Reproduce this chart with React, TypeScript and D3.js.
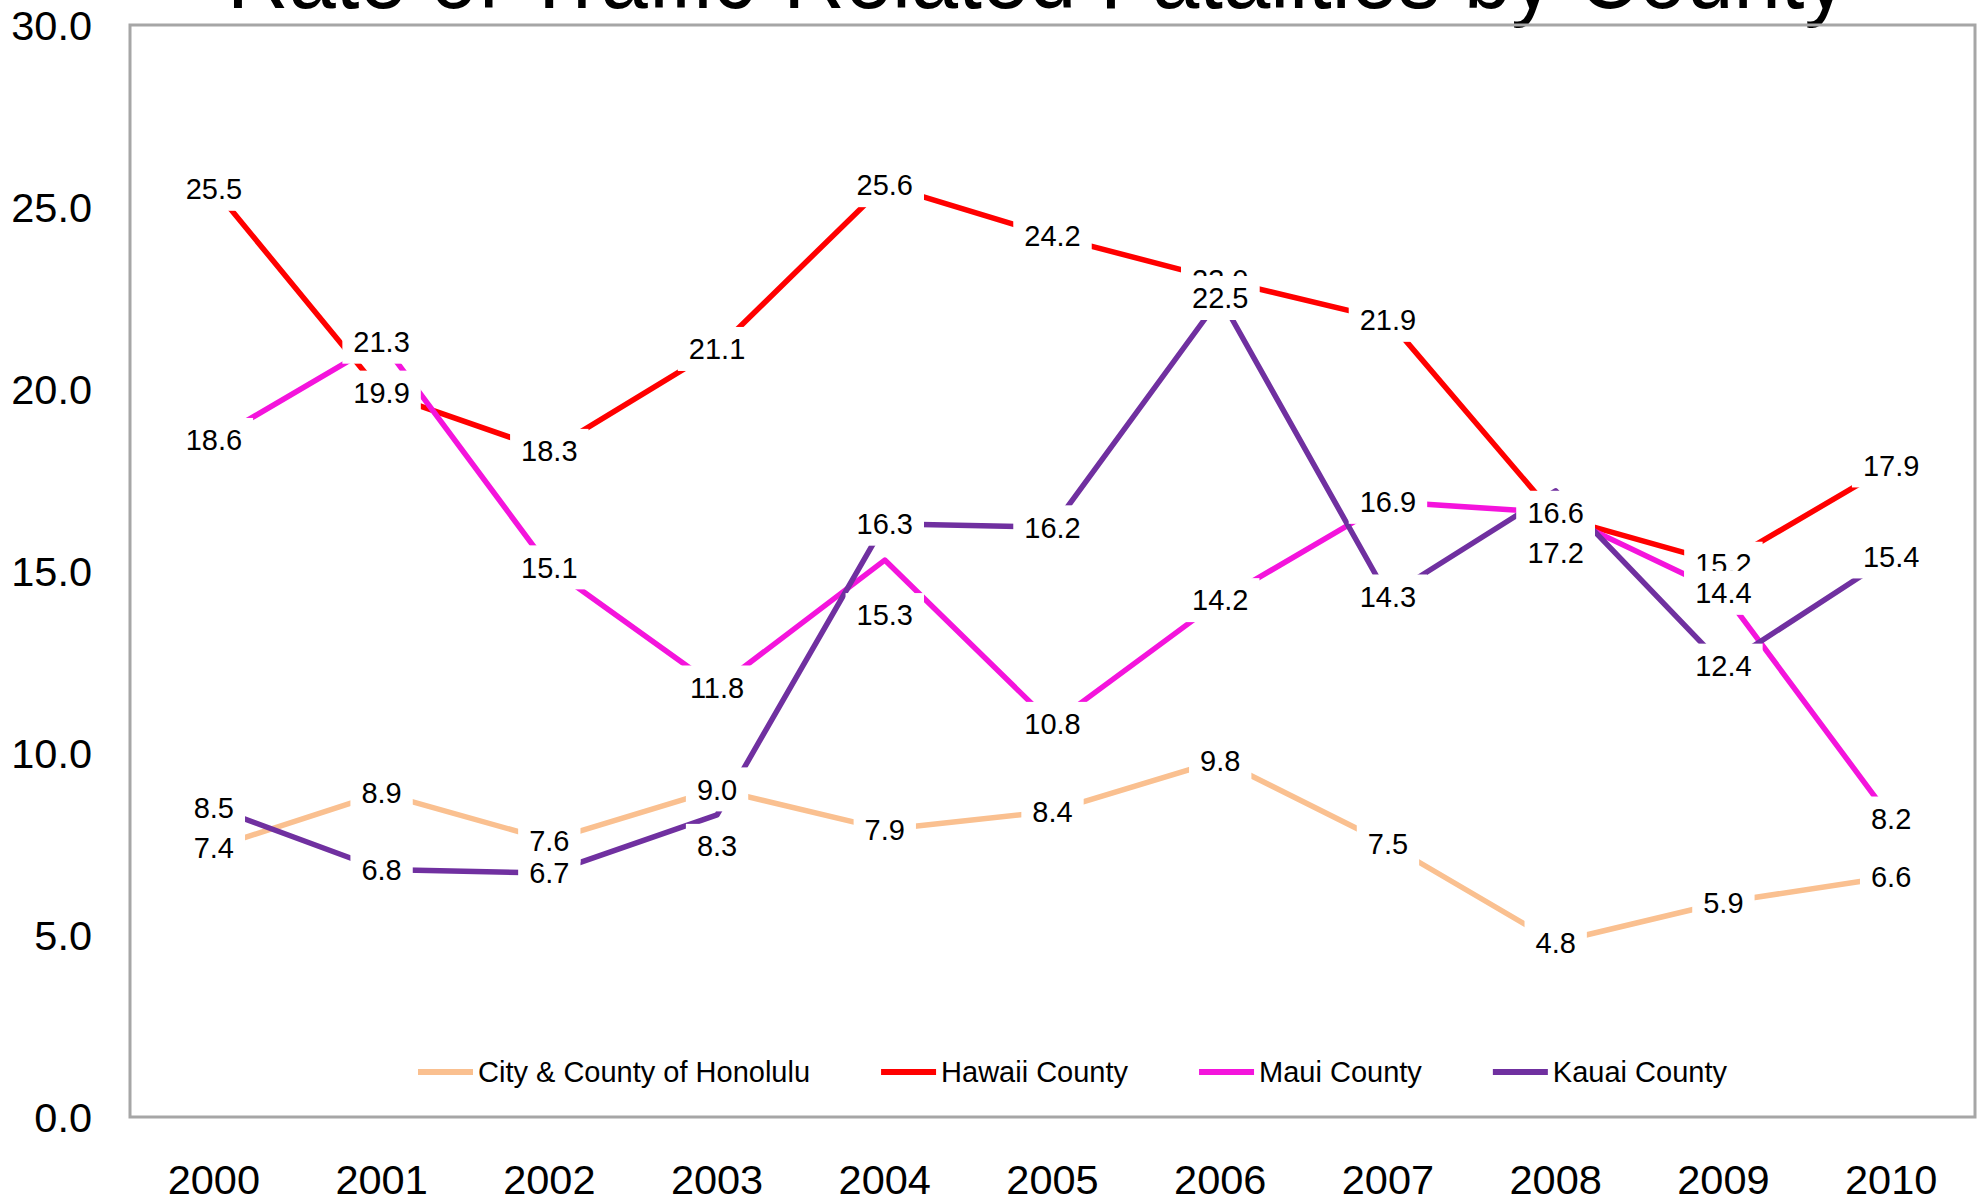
import React, { useEffect, useRef } from "react";
import * as d3 from "d3";

const years = ["2000", "2001", "2002", "2003", "2004", "2005", "2006", "2007", "2008", "2009", "2010"];
const honolulu = [7.4, 8.9, 7.6, 9.0, 7.9, 8.4, 9.8, 7.5, 4.8, 5.9, 6.6];
const hawaii = [25.5, 19.9, 18.3, 21.1, 25.6, 24.2, 23.0, 21.9, 16.5, 15.2, 17.9];
const maui = [18.6, 21.3, 15.1, 11.8, 15.3, 10.8, 14.2, 16.9, 16.6, 14.4, 8.2];
const kauai = [8.5, 6.8, 6.7, 8.3, 16.3, 16.2, 22.5, 14.3, 17.2, 12.4, 15.4];
const seriesNames = ["City & County of Honolulu", "Hawaii County", "Maui County", "Kauai County"];
const yTicks = [0, 5, 10, 15, 20, 25, 30];
const title = "Rate of Traffic-Related Fatalities by County";

const colors = ["#FAC090", "#FF0000", "#F414DC", "#7030A0"];
// manual label nudges (pixels, downward) keyed by "series-index"
const labelNudge: Record<string, number> = { "3-3": 31, "2-4": 55, "3-8": 62 };

export default function App() {
  const ref = useRef<SVGSVGElement | null>(null);
  useEffect(() => {
    const svg = d3.select(ref.current);
    svg.selectAll("*").remove();
    const W = 1983, H = 1201;
    const left = 130, right = 1975, top = 25, bottom = 1117;
    const font = "Liberation Sans, Arial, sans-serif";
    const x = d3.scaleBand<string>().domain(years).range([left, right]).padding(0);
    const y = d3.scaleLinear().domain([0, 30]).range([bottom, top]);
    const cx = (yr: string) => (x(yr) as number) + x.bandwidth() / 2;
    const all = [honolulu, hawaii, maui, kauai];

    svg.append("rect").attr("width", W).attr("height", H).attr("fill", "#fff");

    // title (clipped at top)
    svg.append("text")
      .attr("x", 1037).attr("y", 8)
      .attr("text-anchor", "middle")
      .attr("font-family", font).attr("font-size", 95)
      .attr("textLength", 1620).attr("lengthAdjust", "spacingAndGlyphs")
      .attr("fill", "#000").text(title);

    // plot frame
    svg.append("rect")
      .attr("x", left).attr("y", top).attr("width", right - left).attr("height", bottom - top)
      .attr("fill", "none").attr("stroke", "#A6A6A6").attr("stroke-width", 3);

    // y tick labels
    svg.append("g").selectAll("text").data(yTicks).join("text")
      .attr("x", 92).attr("y", (d) => y(d) + 14.8)
      .attr("text-anchor", "end")
      .attr("font-family", font).attr("font-size", 41.5).attr("fill", "#000")
      .text((d) => d3.format(".1f")(d));

    // x tick labels
    svg.append("g").selectAll("text").data(years).join("text")
      .attr("x", (d) => cx(d)).attr("y", 1194)
      .attr("text-anchor", "middle")
      .attr("font-family", font).attr("font-size", 41.5).attr("fill", "#000")
      .text((d) => d);

    // lines
    const line = d3.line<number>().x((_, i) => cx(years[i])).y((d) => y(d));
    all.forEach((vals, si) => {
      svg.append("path").attr("d", line(vals) as string)
        .attr("fill", "none").attr("stroke", colors[si]).attr("stroke-width", 5.5)
        .attr("stroke-linejoin", "round").attr("stroke-linecap", "round");
    });

    // data labels
    all.forEach((vals, si) => {
      vals.forEach((v, i) => {
        const px = cx(years[i]);
        const py = y(v) + (labelNudge[`${si}-${i}`] || 0);
        const g = svg.append("g");
        const rect = g.append("rect").attr("fill", "#fff");
        const t = g.append("text")
          .attr("x", px).attr("y", py + 10.3)
          .attr("text-anchor", "middle")
          .attr("font-family", font).attr("font-size", 29).attr("fill", "#000")
          .text(d3.format(".1f")(v));
        const tw = (t.node() as SVGTextElement).getComputedTextLength();
        rect.attr("x", px - tw / 2 - 11).attr("y", py - 22).attr("width", tw + 22).attr("height", 44);
      });
    });

    // legend
    let lx = 418;
    const ly = 1072;
    seriesNames.forEach((name, si) => {
      svg.append("line").attr("x1", lx).attr("x2", lx + 55).attr("y1", ly).attr("y2", ly)
        .attr("stroke", colors[si]).attr("stroke-width", 6);
      const t = svg.append("text").attr("x", lx + 60).attr("y", ly + 10.4)
        .attr("font-family", font).attr("font-size", 29).attr("fill", "#000").text(name);
      const tw = (t.node() as SVGTextElement).getComputedTextLength();
      lx = lx + 60 + tw + 71;
    });
  }, []);
  return (
    <svg ref={ref} width={1983} height={1201}
      style={{ position: "absolute", left: 0, top: 0, display: "block" }} />
  );
}
